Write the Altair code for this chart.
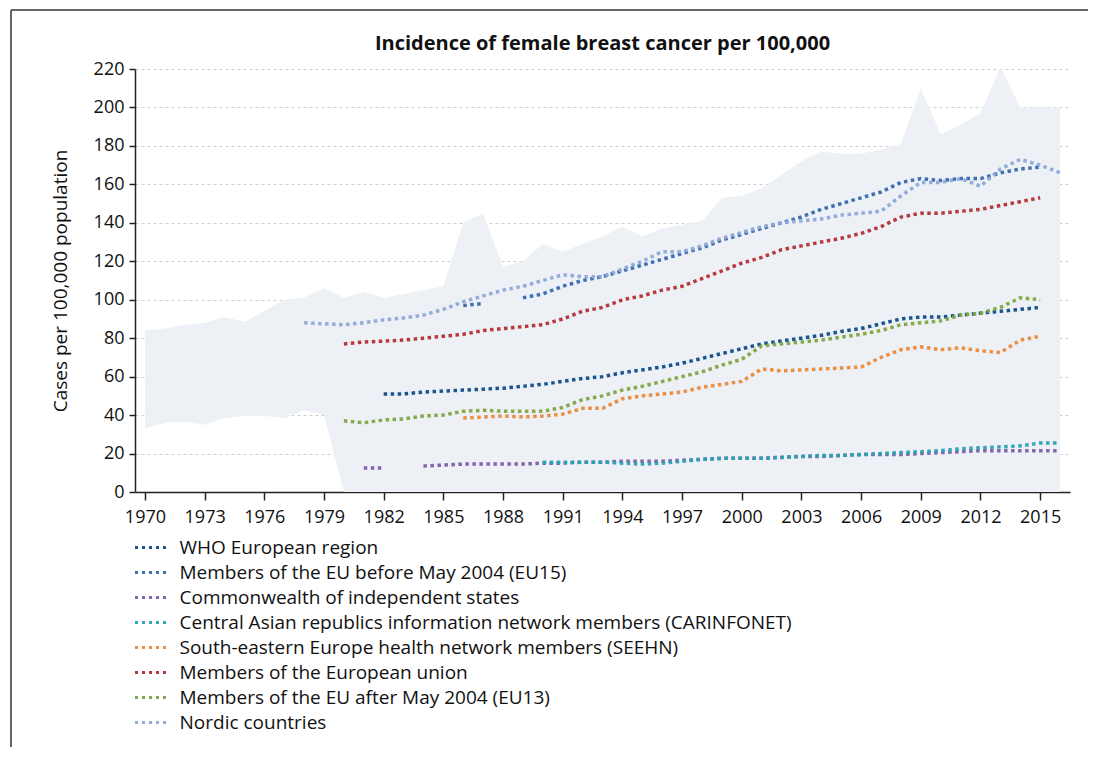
import altair as alt
import pandas as pd

# ---------------- data ----------------
BAND_YEARS = list(range(1970, 2017))
BAND_UPPER = [84, 85, 87, 88, 91, 88.5, 94, 100, 101, 106,
              101, 104, 101, 103, 105, 107, 140, 145, 117, 120,
              129, 125, 129, 133, 138, 133, 137, 139, 141, 153,
              154, 158, 165, 172, 177, 176, 176, 178, 181, 210,
              186, 191, 197, 221, 200, 200, 200]
BAND_LOWER = [33, 36, 36.5, 35, 38.5, 39.5, 39.5, 38.5, 42.5, 40,
              0, 0, 0, 0, 0, 0, 0, 0, 0, 0,
              0, 0, 0, 0, 0, 0, 0, 0, 0, 0,
              0, 0, 0, 0, 0, 0, 0, 0, 0, 0,
              0, 0, 0, 0, 0, 0, 0]

SERIES = [
    "WHO European region",
    "Members of the EU before May 2004 (EU15)",
    "Commonwealth of independent states",
    "Central Asian republics information network members (CARINFONET)",
    "South-eastern Europe health network members (SEEHN)",
    "Members of the European union",
    "Members of the EU after May 2004 (EU13)",
    "Nordic countries",
]
COLORS = ["#0f4c8a", "#3668b0", "#7b5ea8", "#2ba0b6",
          "#ea8838", "#b32f33", "#7fa53f", "#8ea8d8"]

START_YEAR = [1982, 1986, 1981, 1990, 1986, 1980, 1980, 1978]

WHO = [51, 51, 52, 52.5, 53, 53.5, 54, 55,
       56, 57.5, 59, 60, 62, 63.5, 65, 67, 69.5, 72,
       74.5, 77, 78.5, 80, 81.5, 83.5, 85, 87.5, 90, 91,
       91, 92, 93, 94, 95, 96]
EU15 = [97, 98, None, 101,
        103, 107, 110, 112, 115, 118, 121, 124, 127, 131,
        134, 137, 140, 143, 147, 150, 153, 156, 161, 163,
        162, 163, 163, 166, 168, 169]
CIS = [12.5, 12.5, None, 13.5, 14, 14.5, 14.5, 14.5, 14.5,
       15, 15, 15.5, 15.5, 16, 16, 16, 16.5, 17, 17.5,
       17.5, 17.5, 18, 18.5, 18.5, 19, 19.5, 19.5, 19.5, 20,
       20.5, 21, 21.5, 21.5, 21.5, 21.5, 21.5]
CARINFONET = [15.5, 15.5, 15.5, 15.5, 15, 14.5, 15, 16, 17, 17.5,
              17.5, 17.5, 18, 18.5, 19, 19, 19.5, 20, 20.5, 21,
              21.5, 22.5, 23, 23.5, 24, 25.5, 25.5]
SEEHN = [38.5, 39, 39.5, 39,
         39.5, 40.5, 43.5, 43.5, 48.5, 50, 51, 52, 54.5, 56,
         57.5, 64, 63, 63.5, 64, 64.5, 65, 70, 74, 75.5,
         74, 75, 73.5, 72.5, 79, 81]
EU = [77, 78, 78.5, 79, 80, 81, 82, 84, 85, 86,
      87, 90, 94, 96, 100, 102, 105, 107, 111, 115,
      119, 122, 126, 128, 130, 132, 134.5, 138, 143, 145,
      145, 146, 147, 149, 151, 153]
EU13 = [37, 36, 37.5, 38, 39.5, 40, 42, 42.5, 42, 42,
        42, 44, 48, 50, 53, 55, 57.5, 60, 62.5, 66,
        69, 76, 77, 78, 79, 80.5, 82, 84, 87, 88,
        89, 92, 93, 96, 101, 100]
NORDIC = [88, 87.5,
          87, 88, 89.5, 90.5, 92, 95, 99, 102, 105, 107,
          110, 113, 112, 112, 116, 120, 125, 125, 128, 132,
          135, 138, 140, 141, 142, 144, 145, 146, 154, 161,
          161, 163, 159, 168, 173, 170, 166]

VALUES = [WHO, EU15, CIS, CARINFONET, SEEHN, EU, EU13, NORDIC]

# ---------------- tables ----------------
band_df = pd.DataFrame({"year": BAND_YEARS, "upper": BAND_UPPER, "lower": BAND_LOWER})

rows = []
for name, start, vals in zip(SERIES, START_YEAR, VALUES):
    seg = 0
    for i, v in enumerate(vals):
        if v is None:
            seg += 1
            continue
        rows.append({"series": name, "seg": f"{name}-{seg}", "year": start + i, "value": v})
line_df = pd.DataFrame(rows)

FONT = "Open Sans"

x_axis = alt.Axis(values=list(range(1970, 2016, 3)), format="d", title=None, grid=False,
                  tickSize=8, labelFontSize=18, labelPadding=8, labelColor="#111",
                  domainColor="#222", tickColor="#222", domainWidth=1.5, tickWidth=1.5,
                  labelOverlap=False)
y_axis = alt.Axis(values=list(range(0, 221, 20)), title="Cases per 100,000 population",
                  titleFontSize=19, titleFontWeight="normal", titleColor="#111",
                  titlePadding=23, labelFontSize=18, labelColor="#111", tickSize=6,
                  labelPadding=5, domainColor="#222", tickColor="#222",
                  domainWidth=1.5, tickWidth=1.5, labelOverlap=False,
                  grid=True, gridColor="#cfcfcf", gridDash=[3, 3], gridWidth=1)

x_scale = alt.Scale(domain=[1969.5, 2016.5], nice=False, zero=False)
y_scale = alt.Scale(domain=[0, 220], nice=False)

band = alt.Chart(band_df).mark_area(color="#edf1f6").encode(
    x=alt.X("year:Q", scale=x_scale, axis=x_axis),
    y=alt.Y("upper:Q", scale=y_scale, axis=y_axis),
    y2="lower:Q",
)

lines = alt.Chart(line_df).mark_line(
    strokeWidth=3.5, strokeDash=[3.5, 3.5], strokeCap="butt", opacity=0.95
).encode(
    x=alt.X("year:Q", scale=x_scale, axis=x_axis),
    y=alt.Y("value:Q", scale=y_scale, axis=y_axis),
    color=alt.Color(
        "series:N",
        scale=alt.Scale(domain=SERIES, range=COLORS),
        legend=alt.Legend(
            title=None, orient="none", legendX=-1.5, legendY=468, direction="vertical",
            symbolType="stroke", symbolSize=1024, symbolStrokeWidth=3, symbolDash=[3, 4],
            clipHeight=21, rowPadding=4, labelFontSize=19, labelColor="#111",
            labelOffset=11, padding=0, labelLimit=1000,
        ),
    ),
    detail="seg:N",
)

frame_top = alt.Chart(band_df).mark_rule(color="#666666", strokeWidth=1.5).encode(
    x=alt.value(-124), x2=alt.value(953), y=alt.value(-59)
)
frame_left = alt.Chart(band_df).mark_rule(color="#666666", strokeWidth=1.5).encode(
    x=alt.value(-124), y=alt.value(-59), y2=alt.value(700)
)

chart = alt.layer(band, lines, frame_top, frame_left).properties(
    width=935,
    height=423,
    title=alt.TitleParams("Incidence of female breast cancer per 100,000",
                          fontSize=20, fontWeight="bold", color="#111", offset=-45,
                          anchor="middle", frame="group", font=FONT),
    autosize=alt.AutoSizeParams(type="none"),
    padding={"left": 127, "top": 61, "right": 19, "bottom": 255},
).configure(
    font=FONT,
).configure_view(
    stroke=None,
)

chart.save("out.html", embed_options={"renderer": "svg", "actions": False})
